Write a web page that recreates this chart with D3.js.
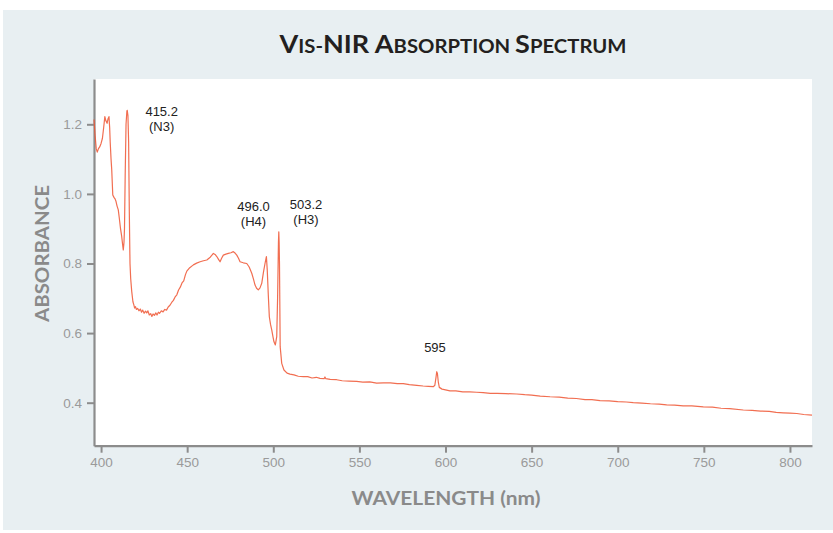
<!DOCTYPE html>
<html>
<head>
<meta charset="utf-8">
<script src="https://cdn.jsdelivr.net/npm/d3@7/dist/d3.min.js"></script>
<style>
  html, body { margin: 0; padding: 0; background: #ffffff; }
  svg { display: block; }
</style>
</head>
<body>
<svg id="chart" width="833" height="533"></svg>
<script>
// Vis-NIR absorption spectrum of a diamond: wavelength (nm) and absorbance
const wavelength = [
  395.9, 396.5, 397.2, 397.8, 398.5, 399.2, 400.0, 400.8, 401.5, 402.2,
  402.8, 403.5, 404.0, 404.6, 405.0, 405.3, 405.8, 406.2, 406.8, 407.5,
  408.2, 408.7, 409.3, 410.0, 410.6, 411.3, 412.0, 412.5, 412.9, 413.3,
  413.6, 414.0, 414.5, 415.0, 415.2, 415.6, 416.0, 416.4, 416.8, 417.2,
  417.8, 418.5, 419.0, 419.5, 420.0, 420.5, 421.2, 422.0, 422.8, 423.5,
  424.2, 425.0, 425.8, 426.5, 427.2, 428.0, 428.8, 429.5, 430.2, 431.0,
  431.8, 432.5, 433.3, 434.0, 435.0, 436.0, 437.0, 438.0, 439.0, 440.0,
  441.0, 442.0, 443.0, 444.0, 445.0, 446.0, 447.0, 448.0, 449.0, 449.8,
  451.5, 453.6, 455.5, 457.5, 459.5, 461.4, 463.4, 465.2, 466.2, 467.2,
  468.2, 469.1, 470.0, 471.0, 472.5, 473.9, 475.4, 476.8, 477.8, 478.8,
  479.8, 480.7, 482.6, 484.6, 486.0, 487.5, 488.5, 489.4, 490.3, 491.3,
  492.3, 493.3, 494.3, 495.2, 496.0, 496.5, 497.1, 497.7, 498.4, 499.1,
  499.8, 500.4, 501.2, 502.0, 502.5, 503.0, 503.2, 503.4, 503.6, 503.8,
  504.0, 504.9, 506.2, 508.0, 509.7, 512.0, 514.5, 517.4, 520.0, 522.5,
  525.0, 527.1, 529.5, 530.0, 530.5, 533.0, 536.8, 540.0, 544.0, 548.4,
  552.0, 556.0, 560.0, 564.0, 568.0, 572.0, 575.5, 579.0, 583.3, 587.0,
  590.0, 592.9, 593.8, 594.4, 594.9, 595.3, 595.8, 596.4, 598.0, 600.0,
  602.6, 606.0, 610.0, 614.0, 618.0, 621.9, 626.0, 630.0, 635.0, 641.3,
  646.0, 650.0, 655.0, 660.7, 666.0, 671.0, 676.0, 681.0, 685.0, 689.7,
  695.0, 700.0, 705.0, 709.0, 714.0, 719.0, 724.0, 728.4, 733.0, 738.0,
  743.0, 749.7, 755.0, 760.0, 765.0, 772.9, 778.0, 783.0, 788.0, 792.0,
  796.1, 800.0, 804.0, 808.0, 812.8
];
const absorbance = [
  1.214, 1.170, 1.130, 1.120, 1.130, 1.135, 1.145, 1.160, 1.190, 1.222,
  1.210, 1.203, 1.215, 1.222, 1.190, 1.150, 1.100, 1.069, 0.997, 0.990,
  0.985, 0.978, 0.965, 0.954, 0.930, 0.900, 0.877, 0.855, 0.839, 0.860,
  0.900, 1.050, 1.200, 1.238, 1.240, 1.225, 1.150, 0.950, 0.800, 0.757,
  0.720, 0.690, 0.682, 0.672, 0.676, 0.668, 0.671, 0.664, 0.669, 0.660,
  0.666, 0.657, 0.663, 0.658, 0.664, 0.652, 0.656, 0.648, 0.655, 0.651,
  0.658, 0.652, 0.660, 0.657, 0.664, 0.661, 0.668, 0.666, 0.675, 0.680,
  0.688, 0.694, 0.704, 0.710, 0.724, 0.732, 0.744, 0.750, 0.768, 0.778,
  0.788, 0.796, 0.801, 0.805, 0.808, 0.810, 0.818, 0.829, 0.826, 0.820,
  0.812, 0.805, 0.815, 0.824, 0.827, 0.829, 0.831, 0.834, 0.830, 0.824,
  0.815, 0.805, 0.802, 0.800, 0.790, 0.772, 0.755, 0.738, 0.729, 0.724,
  0.730, 0.743, 0.775, 0.800, 0.820, 0.781, 0.710, 0.647, 0.625, 0.609,
  0.590, 0.575, 0.566, 0.590, 0.700, 0.860, 0.891, 0.860, 0.800, 0.680,
  0.561, 0.513, 0.494, 0.485, 0.482, 0.480, 0.476, 0.475, 0.475, 0.471,
  0.473, 0.470, 0.469, 0.474, 0.469, 0.467, 0.466, 0.463, 0.462, 0.461,
  0.459, 0.460, 0.456, 0.457, 0.457, 0.455, 0.455, 0.452, 0.450, 0.448,
  0.447, 0.446, 0.450, 0.470, 0.489, 0.484, 0.460, 0.444, 0.439, 0.437,
  0.434, 0.434, 0.431, 0.431, 0.430, 0.429, 0.427, 0.427, 0.426, 0.425,
  0.423, 0.422, 0.419, 0.417, 0.416, 0.413, 0.412, 0.409, 0.409, 0.406,
  0.405, 0.403, 0.402, 0.400, 0.399, 0.397, 0.396, 0.394, 0.393, 0.391,
  0.391, 0.388, 0.387, 0.384, 0.383, 0.379, 0.378, 0.376, 0.375, 0.372,
  0.371, 0.370, 0.369, 0.366, 0.364
];

// Axis ticks
const xTicks = [400, 450, 500, 550, 600, 650, 700, 750, 800];
const yTicks = [0.4, 0.6, 0.8, 1.0, 1.2];

// Peak labels: anchor in data units (nm, absorbance of first baseline) and text lines
const peakLines  = [["415.2", "(N3)"], ["496.0", "(H4)"], ["503.2", "(H3)"], ["595"]];
const peakLabelX = [435.2, 488.5, 519.0, 593.9];
const peakLabelY = [1.225, 0.951, 0.957, 0.546];

const svg = d3.select("#chart");
const W = 833, H = 533;
const margin = { left: 94, top: 79, right: 21, bottom: 87.3 };
const pw = W - margin.left - margin.right;
const ph = H - margin.top - margin.bottom;

// Panel background
svg.append("rect")
  .attr("x", 3).attr("y", 10)
  .attr("width", W - 3).attr("height", 520)
  .attr("fill", "#e8eff2");

const g = svg.append("g").attr("transform", `translate(${margin.left},${margin.top})`);

g.append("rect").attr("width", pw).attr("height", ph).attr("fill", "#ffffff");

const x = d3.scaleLinear().domain([395.9, 812.8]).range([0, pw]);
const y = d3.scaleLinear().domain([0.2764, 1.3302]).range([ph, 0]);

const axisColor = "#8c8c8c";
const tickText = "#9a9a9a";
const tickFont = "'Liberation Sans', Arial, Helvetica, sans-serif";

const xAxis = g.append("g")
  .attr("transform", `translate(0,${ph})`)
  .call(d3.axisBottom(x).tickValues(xTicks).tickSizeInner(7).tickSizeOuter(0).tickPadding(5));
const yAxis = g.append("g")
  .call(d3.axisLeft(y).tickValues(yTicks).tickFormat(d3.format(".1f")).tickSizeInner(7).tickSizeOuter(0).tickPadding(5));

[xAxis, yAxis].forEach(a => {
  a.select(".domain").attr("stroke", axisColor).attr("stroke-width", 2.2);
  a.selectAll(".tick line").attr("stroke", axisColor).attr("stroke-width", 2);
  a.selectAll(".tick text")
    .attr("fill", tickText)
    .attr("font-family", tickFont)
    .attr("font-size", 13.5);
});

// Spectrum trace
const pts = wavelength.map((w, i) => [w, absorbance[i]]);
const line = d3.line().x(d => x(d[0])).y(d => y(d[1]));
g.append("path")
  .datum(pts)
  .attr("d", line)
  .attr("fill", "none")
  .attr("stroke", "#ef5533")
  .attr("stroke-opacity", 0.85)
  .attr("stroke-width", 1.2)
  .attr("stroke-linejoin", "round");

// Peak annotations
peakLines.forEach((lines, i) => {
  const t = g.append("text")
    .attr("x", x(peakLabelX[i]))
    .attr("y", y(peakLabelY[i]))
    .attr("text-anchor", "middle")
    .attr("font-family", tickFont)
    .attr("font-size", 13)
    .attr("fill", "#222222");
  lines.forEach((s, j) => {
    t.append("tspan")
      .attr("x", x(peakLabelX[i]))
      .attr("dy", j === 0 ? 0 : 15.5)
      .text(s);
  });
});

// Title in small caps
const titleParts = [["V", 24], ["IS-", 18], ["NIR ", 24], ["A", 24], ["BSORPTION ", 18], ["S", 24], ["PECTRUM", 18]];
const title = svg.append("text")
  .attr("x", margin.left + pw / 2)
  .attr("y", 53)
  .attr("text-anchor", "middle")
  .attr("font-family", "Lato, 'Open Sans', sans-serif")
  .attr("font-weight", 700)
  .attr("fill", "#231f20")
  .attr("textLength", 347)
  .attr("lengthAdjust", "spacingAndGlyphs");
titleParts.forEach(([s, fs]) => title.append("tspan").attr("font-size", fs).text(s));

// Axis titles
const axTitleFont = "Lato, 'Open Sans', sans-serif";
svg.append("text")
  .attr("x", margin.left + pw / 2 - 7)
  .attr("y", 505)
  .attr("text-anchor", "middle")
  .attr("font-family", axTitleFont)
  .attr("font-weight", 700)
  .attr("font-size", 18)
  .attr("fill", "#8a8a8a")
  .attr("textLength", 189)
  .attr("lengthAdjust", "spacingAndGlyphs")
  .text("WAVELENGTH (nm)");

svg.append("text")
  .attr("transform", `translate(49,253.5) rotate(-90)`)
  .attr("text-anchor", "middle")
  .attr("font-family", axTitleFont)
  .attr("font-weight", 700)
  .attr("font-size", 18)
  .attr("fill", "#8a8a8a")
  .attr("textLength", 137)
  .attr("lengthAdjust", "spacingAndGlyphs")
  .text("ABSORBANCE");
</script>
</body>
</html>
